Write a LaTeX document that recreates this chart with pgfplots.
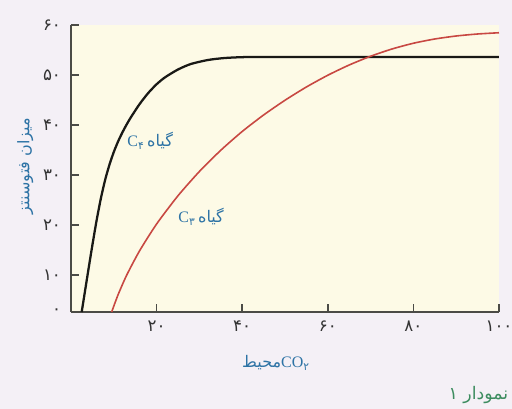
\documentclass[border=0pt]{standalone}
\usepackage{fontspec}
\setmainfont{Liberation Serif}
\newfontfamily\arabicfont[Script=Arabic]{DejaVu Sans}
\TeXXeTstate=1
\usepackage{pgfplots}
\pgfplotsset{compat=1.18}

\definecolor{pagebg}{RGB}{244,240,246}
\definecolor{cream}{RGB}{253,250,230}
\definecolor{axisgray}{RGB}{75,75,70}
\definecolor{cfour}{RGB}{25,25,22}
\definecolor{cthree}{RGB}{200,72,66}
\definecolor{labelblue}{RGB}{45,115,165}
\definecolor{captiongreen}{RGB}{60,140,95}

\begin{document}
\begin{tikzpicture}
% page background, picture is 512 x 409 px at 0.75pt per px
\fill[pagebg] (-53.25pt,-72.75pt) rectangle (330.75pt,234pt);
\begin{axis}[
    at={(0,0)}, anchor=south west,
    scale only axis,
    width=321pt, height=215.25pt,
    xmin=0, xmax=100,
    ymin=2.6, ymax=60,
    axis x line*=bottom,
    axis y line*=left,
    axis line style={axisgray, line width=1.5pt, -},
    axis background/.style={fill=cream},
    tick style={axisgray, line width=1.2pt},
    tick align=inside,
    major tick length=6pt,
    xtick={20,40,60,80,100},
    xticklabels={۲۰,۴۰,۶۰,۸۰,۱۰۰},
    ytick={2.6,10,20,30,40,50,60},
    yticklabels={۰,۱۰,۲۰,۳۰,۴۰,۵۰,۶۰},
    ticklabel style={font=\arabicfont\fontsize{12.5}{14}\selectfont, text=black!80},
    xticklabel style={yshift=-3pt},
    yticklabel style={xshift=-4pt},
    clip=false,
]
% C4 plant (black)
\addplot[cfour, line width=1.7pt, smooth, tension=0.4] coordinates {
    (2.5,2.6) (3,5.3) (4,10.7) (5,16.0) (6,21.0) (7,25.4) (8,29.1)
    (9,32.1) (10,34.6) (11,36.7) (12,38.5) (13,40.1) (14,41.55)
    (16,44.15) (18,46.35) (20,48.15) (22,49.55) (25,51.1) (28,52.2)
    (32,53.0) (36,53.4) (42,53.6) (60,53.6) (100,53.6)
};
% C3 plant (red)
\addplot[cthree, line width=1.2pt, smooth, tension=0.4] coordinates {
    (9.5,2.6) (11,6.05) (13,9.95) (16,14.8) (20,20.2) (25,25.85)
    (30,30.7) (35,34.95) (40,38.7) (45,42.0) (50,44.95) (55,47.6)
    (60,49.95) (65,52.0) (70,53.75) (75,55.2) (80,56.35) (85,57.2)
    (90,57.8) (95,58.2) (100,58.45)
};

\node[labelblue, font=\fontsize{12}{14}\selectfont] at (axis cs:18.5,36.8)
    {C\textsubscript{\arabicfont ۴}\,{\arabicfont\beginR گیاه\endR}};
\node[labelblue, font=\fontsize{12}{14}\selectfont] at (axis cs:30.4,21.6)
    {C\textsubscript{\arabicfont ۳}\,{\arabicfont\beginR گیاه\endR}};

\node[labelblue, rotate=90, font=\arabicfont\fontsize{12}{14}\selectfont]
    at (axis cs:-10.7,31.8) {\beginR میزان فتوسنتز\endR};
\node[labelblue, font=\fontsize{12}{14}\selectfont] at (axis cs:47.9,-7.6)
    {{\arabicfont\beginR محیط\endR}CO\textsubscript{\arabicfont ۲}};
\node[captiongreen, anchor=east, inner sep=0pt, font=\arabicfont\fontsize{13}{15}\selectfont]
    at (axis cs:102.2,-14) {\beginR نمودار ۱\endR};
\end{axis}
\pgfresetboundingbox
\path[use as bounding box] (-53.25pt,-72.75pt) rectangle (330.75pt,234pt);
\end{tikzpicture}
\end{document}
